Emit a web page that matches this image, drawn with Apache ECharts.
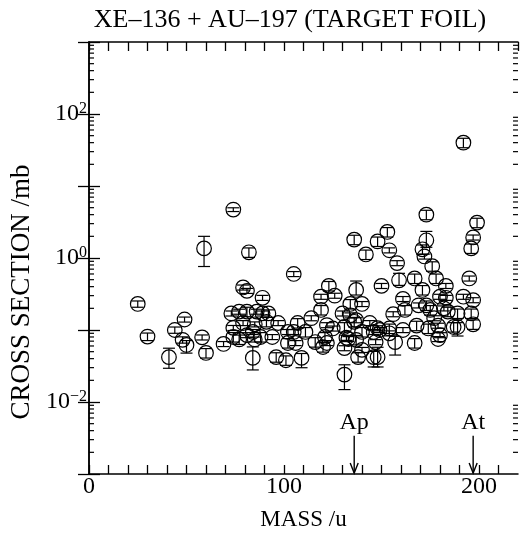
<!DOCTYPE html>
<html><head><meta charset="utf-8">
<script src="https://cdn.jsdelivr.net/npm/echarts@6/dist/echarts.min.js"></script>
<style>html,body{margin:0;padding:0;background:#fff}#c{width:520px;height:540px}</style>
</head><body><div id="c"></div><script>
const titleText = 'XE–136 + AU–197 (TARGET FOIL)';
const xAxisName = 'MASS /u';
const yAxisName = 'CROSS SECTION /mb';
const xTickLabels = [0, 100, 200];
const yTickExponents = [-2, 0, 2];

const mass = [
 25,30,41,44,49,48,50,58,60,69,
 59,74,82,79,81,89,105,77,86,92,
 136,142,148,153,154,158,159,150,167,171,
 173,173,171,172,176,178,183,195,196,197,
 199,192,123,119,126,137,119,107,114,122,
 134,140,136,144,156,162,169,175,183,192,
 197,196,197,189,187,179,168,161,154,146,
 133,179,167,157,148,148,173,182,84,131,
 109,101,96,131,132,138,140,79,89,97,
 134,121,102,94,85,77,84,105,111,120,
 125,73,74,74,146,81,85,91,102,81,
 88,106,116,130,131,137,149,140,147,137,
 122,180,174,154,177,184,161,180,189];
const sigma = [
 0.23,0.081,0.042,0.10,0.14,0.073,0.062,0.079,0.048,0.064,
 1.36,4.7,1.2,0.39,0.35,0.28,0.6,0.18,0.18,0.17,
 1.8,1.12,1.7,2.3,1.28,0.85,0.49,0.41,0.52,0.36,
 4.0,1.76,1.32,1.05,0.77,0.52,0.41,0.52,1.36,1.93,
 3.1,40,0.41,0.29,0.30,0.36,0.19,0.125,0.146,0.117,
 0.23,0.23,0.13,0.125,0.166,0.19,0.22,0.19,0.28,0.29,
 0.26,0.17,0.12,0.11,0.11,0.115,0.115,0.10,0.105,0.094,
 0.075,0.075,0.066,0.068,0.042,0.106,0.22,0.20,0.041,0.024,
 0.041,0.038,0.042,0.056,0.078,0.042,0.053,0.125,0.17,0.125,
 0.16,0.08,0.066,0.08,0.074,0.074,0.094,0.094,0.094,0.058,
 0.105,0.17,0.107,0.08,0.042,0.18,0.12,0.13,0.094,0.085,
 0.08,0.066,0.068,0.17,0.11,0.137,0.10,0.094,0.068,0.073,
 0.066,0.085,0.105,0.09,0.146,0.18,0.27,0.29,0.17];
const errUp = [
 .10,.12,.33,.10,.08,.10,.15,.08,.15,.08,
 .47,.06,.15,.08,.08,.08,.08,.08,.08,.12,
 .15,.15,.15,.15,.08,.08,.25,.08,.15,.15,
 .15,.33,.15,.08,.15,.15,.08,.08,.15,.08,
 .15,.15,.15,.08,.08,.33,.15,.15,.08,.08,
 .15,.08,.15,.08,.08,.15,.08,.15,.08,.08,
 .08,.15,.15,.15,.15,.08,.15,.08,.15,.08,
 .08,.08,.15,.20,.37,.08,.15,.08,.42,.37,
 .15,.15,.15,.08,.08,.15,.08,.08,.08,.08,
 .08,.15,.15,.08,.08,.15,.08,.08,.15,.15,
 .08,.08,.08,.15,.20,.15,.08,.15,.08,.08,
 .15,.08,.15,.08,.15,.08,.08,.15,.08,.15,
 .08,.08,.15,.08,.08,.15,.08,.08,.15];
const errDn = [
 .10,.12,.30,.10,.08,.10,.23,.08,.15,.08,
 .44,.06,.15,.08,.08,.08,.08,.08,.08,.12,
 .15,.15,.15,.15,.08,.08,.15,.08,.15,.15,
 .15,.20,.15,.08,.15,.15,.08,.08,.15,.08,
 .15,.15,.15,.08,.08,.15,.15,.15,.08,.08,
 .15,.08,.15,.08,.08,.15,.08,.15,.08,.08,
 .08,.15,.15,.25,.15,.08,.15,.08,.15,.08,
 .08,.08,.15,.34,.27,.08,.15,.08,.32,.38,
 .27,.15,.15,.08,.08,.15,.08,.08,.08,.08,
 .08,.15,.15,.08,.08,.15,.08,.08,.15,.15,
 .08,.08,.08,.15,.27,.15,.08,.15,.08,.08,
 .15,.08,.15,.08,.15,.08,.08,.15,.08,.15,
 .08,.08,.15,.08,.08,.15,.08,.08,.15];

const arrowMass = [136, 197];
const arrowLabel = ['Ap', 'At'];
const arrowTop = 0.0034;
const arrowBottom = 0.001;
const minorMult = [2,3,4,5,6,7,8,9];
const decades = [0.001, 0.01, 0.1, 1, 10, 100];

const F = "'Liberation Serif','DejaVu Serif',serif";
const pointData = mass.map((m, i) => [m, sigma[i], errUp[i], errDn[i]]);
const minorData = [];
decades.forEach(d => minorMult.forEach(k => minorData.push([0, d * k])));
const arrowData = arrowMass.map((m, i) => [m, arrowTop, arrowBottom, i]);

const chart = echarts.init(document.getElementById('c'), null, {renderer: 'canvas'});
const lineSt = {stroke: '#000', lineWidth: 1.2};
const axLine = {lineStyle: {color: '#000', width: 1.5}};

chart.setOption({
  animation: false,
  backgroundColor: '#fff',
  grid: {left: 89, right: 2, top: 42, bottom: 66},
  graphic: [
    {type: 'text', x: 290, y: 20, style: {text: titleText, font: '26px ' + F, fill: '#000', textAlign: 'center', textVerticalAlign: 'middle'}},
    {type: 'text', x: 22, y: 292, rotation: Math.PI / 2, style: {text: yAxisName, font: '27px ' + F, fill: '#000', textAlign: 'center', textVerticalAlign: 'middle'}}
  ],
  xAxis: [
    {type: 'value', min: 0, max: 220, interval: 10, position: 'bottom',
     axisLine: axLine, axisTick: {inside: true, length: 9, lineStyle: {color: '#000', width: 1.3}},
     axisLabel: {margin: 1, color: '#000', fontFamily: F, fontSize: 24, showMaxLabel: false,
       formatter: v => xTickLabels.includes(v) ? String(v) : ''},
     splitLine: {show: false},
     name: xAxisName, nameLocation: 'middle', nameGap: 34,
     nameTextStyle: {fontFamily: F, fontSize: 23, color: '#000'}},
    {type: 'value', min: 0, max: 220, interval: 10, position: 'top',
     axisLine: axLine, axisTick: {inside: true, length: 9, lineStyle: {color: '#000', width: 1.3}},
     axisLabel: {show: false}, splitLine: {show: false}}
  ],
  yAxis: [
    {type: 'log', logBase: 10, min: 0.001, max: 1000, splitNumber: 6, position: 'left',
     axisLine: axLine, axisTick: {inside: true, length: 11, lineStyle: {color: '#000', width: 1.3}},
     axisLabel: {margin: 2, color: '#000',
       formatter: v => { const e = Math.round(Math.log10(v)); return yTickExponents.includes(e) ? '{b|10}{s|' + (e < 0 ? '−' + (-e) : e) + '}' : ''; },
       rich: {b: {fontFamily: F, fontSize: 24, color: '#000'}, s: {fontFamily: F, fontSize: 16, color: '#000', verticalAlign: 'top', padding: [0, 0, 10, 0]}}},
     splitLine: {show: false}},
    {type: 'log', logBase: 10, min: 0.001, max: 1000, splitNumber: 6, position: 'right',
     axisLine: axLine, axisTick: {inside: true, length: 11, lineStyle: {color: '#000', width: 1.3}},
     axisLabel: {show: false}, splitLine: {show: false}}
  ],
  series: [
    {type: 'custom', xAxisIndex: 0, yAxisIndex: 0, data: minorData, silent: true,
     renderItem: (p, api) => {
       const a = api.coord([0, api.value(1)]);
       const b = api.coord([220, api.value(1)]);
       const len = 5;
       return {type: 'group', children: [
         {type: 'line', shape: {x1: a[0], y1: a[1], x2: a[0] + len, y2: a[1]}, style: lineSt},
         {type: 'line', shape: {x1: b[0], y1: b[1], x2: b[0] - len, y2: b[1]}, style: lineSt}
       ]};
     }},
    {type: 'custom', xAxisIndex: 0, yAxisIndex: 0, data: pointData, silent: true,
     encode: {x: 0, y: 1},
     renderItem: (p, api) => {
       const m = api.value(0), s = api.value(1), up = api.value(2), dn = api.value(3);
       const c = api.coord([m, s]);
       const t = api.coord([m, s * (1 + up)]);
       const b = api.coord([m, s * (1 - dn)]);
       const r = 7.3, cw = 6;
       return {type: 'group', children: [
         {type: 'circle', shape: {cx: c[0], cy: c[1], r: r}, style: {stroke: '#000', fill: 'none', lineWidth: 1.2}},
         {type: 'line', shape: {x1: c[0], y1: t[1], x2: c[0], y2: b[1]}, style: lineSt},
         {type: 'line', shape: {x1: c[0] - cw, y1: t[1], x2: c[0] + cw, y2: t[1]}, style: lineSt},
         {type: 'line', shape: {x1: c[0] - cw, y1: b[1], x2: c[0] + cw, y2: b[1]}, style: lineSt}
       ]};
     }},
    {type: 'custom', xAxisIndex: 0, yAxisIndex: 0, data: arrowData, silent: true, clip: false,
     renderItem: (p, api) => {
       const m = api.value(0);
       const t = api.coord([m, api.value(1)]);
       const b = api.coord([m, api.value(2)]);
       const idx = api.value(3);
       return {type: 'group', children: [
         {type: 'line', shape: {x1: t[0], y1: t[1], x2: b[0], y2: b[1] - 1}, style: {stroke: '#000', lineWidth: 1.4}},
         {type: 'polyline', shape: {points: [[b[0] - 4, b[1] - 11], [b[0], b[1] - 1], [b[0] + 4, b[1] - 11]]}, style: {stroke: '#000', fill: 'none', lineWidth: 1.4}},
         {type: 'text', x: t[0], y: t[1] - 13, style: {text: arrowLabel[idx], font: '24px ' + F, fill: '#000', textAlign: 'center', textVerticalAlign: 'middle'}}
       ]};
     }}
  ]
});
</script></body></html>
